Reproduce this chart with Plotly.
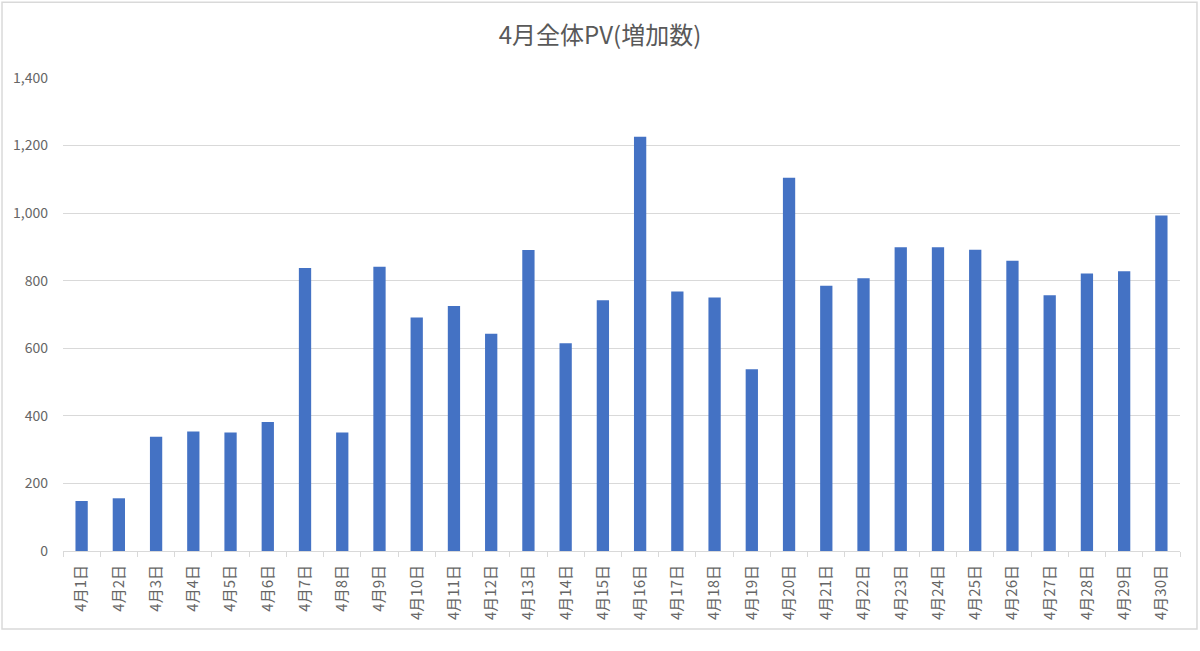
import plotly.graph_objects as go

# April daily PV increase
days = [f"4月{d}日" for d in range(1, 31)]
pv_increase = [148, 156, 338, 354, 351, 382, 838, 351, 841, 691,
               725, 643, 891, 615, 742, 1226, 768, 750, 538, 1105,
               785, 807, 899, 899, 892, 859, 757, 821, 828, 993]
y_ticks = [0, 200, 400, 600, 800, 1000, 1200, 1400]

font_family = "Noto Sans CJK JP, Noto Sans, sans-serif"
grey_text = "#595959"

fig = go.Figure()

fig.add_trace(
    go.Bar(
        x=days,
        y=pv_increase,
        marker=dict(color="#4472C4", line=dict(width=0)),
    )
)

fig.update_layout(
    width=1200,
    height=651,
    margin=dict(l=63, r=20, t=78, b=100),
    paper_bgcolor="white",
    plot_bgcolor="white",
    bargap=0.67,
    showlegend=False,
    font=dict(family=font_family, color=grey_text, size=14),
    title=dict(
        text="4月全体PV(増加数)",
        x=0.5,
        xref="container",
        xanchor="center",
        y=0.946,
        yanchor="middle",
        font=dict(size=24, color=grey_text),
    ),
    xaxis=dict(
        automargin=False,
        tickangle=-90,
        showgrid=False,
        showline=True,
        linecolor="#d9d9d9",
        ticks="outside",
        tickson="boundaries",
        ticklen=5,
        tickcolor="#d9d9d9",
        ticklabelstandoff=7,
        tickfont=dict(size=15, color="#666666"),
    ),
    yaxis=dict(
        automargin=False,
        range=[0, 1400],
        tickvals=y_ticks,
        tickformat=",d",
        showgrid=True,
        gridcolor="#d9d9d9",
        zeroline=False,
        showline=False,
        ticks="",
        ticklabelstandoff=14,
        tickfont=dict(size=14, color="#666666"),
    ),
    # chart-area border like Excel
    shapes=[
        dict(
            type="rect",
            xref="paper",
            yref="paper",
            x0=-0.0546,
            x1=1.0152,
            y0=-0.165,
            y1=1.16,
            line=dict(color="#d9d9d9", width=1.5),
            fillcolor="rgba(0,0,0,0)",
            layer="below",
        )
    ],
)

# drop the default page margin so the 1200x651 figure fills the window
fig.write_html(
    "out.html",
    config={"displayModeBar": False},
    post_script="document.body.style.margin='0';",
)
